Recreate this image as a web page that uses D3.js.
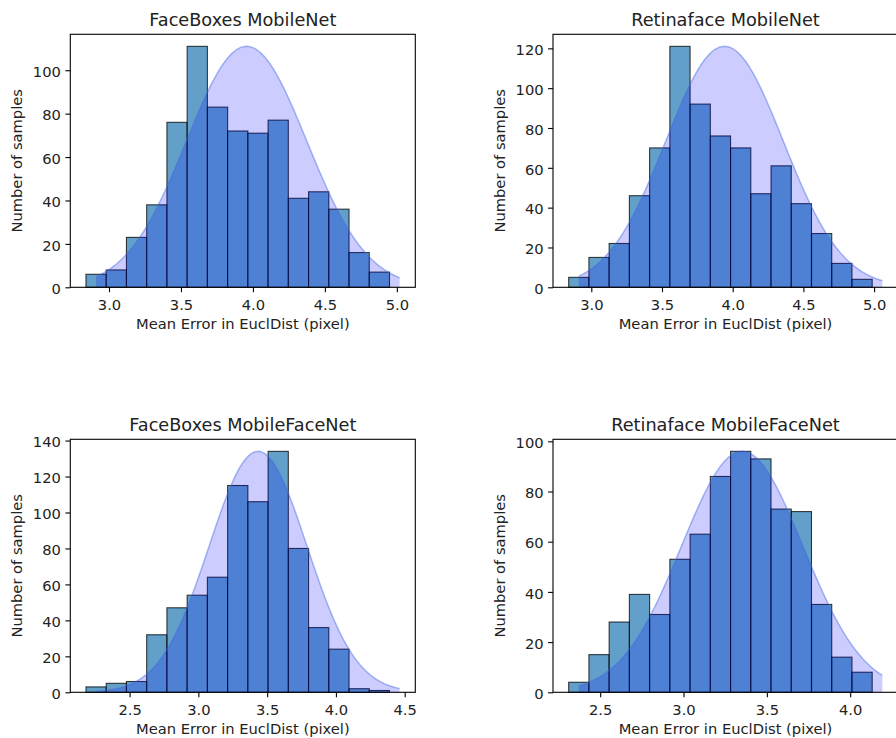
<!DOCTYPE html>
<html>
<head>
<meta charset="utf-8">
<script src="https://cdn.jsdelivr.net/npm/d3@7"></script>
<style>
  html, body { margin: 0; padding: 0; background: #fff; }
  svg { display: block; font-family: "DejaVu Sans", sans-serif; }
</style>
</head>
<body>
<svg id="chart" width="896" height="738"></svg>
<script>
// ---------- data ----------
const titles = ["FaceBoxes MobileNet", "Retinaface MobileNet", "FaceBoxes MobileFaceNet", "Retinaface MobileFaceNet"];
const binStarts = [2.84, 2.84, 2.183, 2.311];
const binWidths = [0.1406, 0.1431, 0.1471, 0.1214];
const countsFBMobileNet = [6, 8, 23, 38, 76, 111, 83, 72, 71, 77, 41, 44, 36, 16, 7];
const countsRFMobileNet = [5, 15, 22, 46, 70, 121, 92, 76, 70, 47, 61, 42, 27, 12, 4];
const countsFBMobileFaceNet = [3, 5, 6, 32, 47, 54, 64, 115, 106, 134, 80, 36, 24, 2, 1];
const countsRFMobileFaceNet = [4, 15, 28, 39, 31, 53, 63, 86, 96, 93, 73, 72, 35, 14, 8];
const counts = [countsFBMobileNet, countsRFMobileNet, countsFBMobileFaceNet, countsRFMobileFaceNet];
// fitted normal curve drawn over each histogram
const curveMu = [3.956, 3.942, 3.434, 3.352];
const curveSigma = [0.4185, 0.4157, 0.356, 0.3644];
const curvePeak = [111, 121, 134, 96];
const xTicks = [
  [3.0, 3.5, 4.0, 4.5, 5.0],
  [3.0, 3.5, 4.0, 4.5, 5.0],
  [2.5, 3.0, 3.5, 4.0, 4.5],
  [2.5, 3.0, 3.5, 4.0]
];
const yTicks = [
  [0, 20, 40, 60, 80, 100],
  [0, 20, 40, 60, 80, 100, 120],
  [0, 20, 40, 60, 80, 100, 120, 140],
  [0, 20, 40, 60, 80, 100]
];
const xLabel = "Mean Error in EuclDist (pixel)";
const yLabel = "Number of samples";

// ---------- layout ----------
const panelLeft = [70.3, 553, 70.3, 553];
const panelTop = [34.3, 34.3, 439.3, 439.3];
const panelW = 345, panelH = 253;
const tickFont = "14.7px", titleFont = "17.7px";

const svg = d3.select("#chart");

for (let p = 0; p < 4; p++) {
  const w = binWidths[p], c = counts[p];
  const bins = c.map((v, i) => ({ x0: binStarts[p] + i * w, x1: binStarts[p] + (i + 1) * w, n: v }));
  const curveStart = binStarts[p] + w / 2;
  const curveEnd = binStarts[p] + c.length * w + w / 2;
  const dMin = Math.min(binStarts[p], curveStart), dMax = curveEnd;
  const margin = (dMax - dMin) * 0.05;
  const x = d3.scaleLinear().domain([dMin - margin, dMax + margin]).range([0, panelW]);
  const yMax = d3.max(c) * 1.05;
  const y = d3.scaleLinear().domain([0, yMax]).range([panelH, 0]);

  const g = svg.append("g").attr("transform", `translate(${panelLeft[p]},${panelTop[p]})`);

  // histogram bars
  g.selectAll("rect.bar").data(bins).enter().append("rect")
    .attr("class", "bar")
    .attr("x", d => x(d.x0))
    .attr("width", d => x(d.x1) - x(d.x0))
    .attr("y", d => y(d.n))
    .attr("height", d => y(0) - y(d.n))
    .attr("fill", "#1f77b4").attr("fill-opacity", 0.7)
    .attr("stroke", "#000").attr("stroke-opacity", 0.75).attr("stroke-width", 1.1);

  // normal curve
  const xs = d3.range(0, 201).map(i => curveStart + (curveEnd - curveStart) * i / 200);
  const pts = xs.map(v => [v, curvePeak[p] * Math.exp(-0.5 * Math.pow((v - curveMu[p]) / curveSigma[p], 2))]);
  const area = d3.area().x(d => x(d[0])).y0(y(0)).y1(d => y(d[1]));
  const line = d3.line().x(d => x(d[0])).y(d => y(d[1]));
  g.append("path").datum(pts).attr("d", area)
    .attr("fill", "#0000ff").attr("fill-opacity", 0.2).attr("stroke", "none");
  g.append("path").datum(pts).attr("d", line)
    .attr("fill", "none").attr("stroke", "#4169e1").attr("stroke-opacity", 0.45).attr("stroke-width", 1.5);

  // axes
  const xAxis = d3.axisBottom(x).tickValues(xTicks[p]).tickFormat(d3.format(".1f")).tickSize(4.9).tickPadding(7);
  const yAxis = d3.axisLeft(y).tickValues(yTicks[p]).tickFormat(d3.format("d")).tickSize(4.9).tickPadding(4.5);
  const gx = g.append("g").attr("transform", `translate(0,${panelH})`).call(xAxis);
  const gy = g.append("g").call(yAxis);
  [gx, gy].forEach(a => {
    a.select(".domain").remove();
    a.selectAll(".tick line").attr("stroke", "#000").attr("stroke-width", 1.1);
    a.selectAll(".tick text").attr("fill", "#222").style("font-size", tickFont).style("font-family", "DejaVu Sans");
  });
  gy.selectAll(".tick text").attr("dy", "0.42em");

  // frame
  g.append("rect").attr("x", 0).attr("y", 0).attr("width", panelW).attr("height", panelH)
    .attr("fill", "none").attr("stroke", "#000").attr("stroke-width", 1.1);

  // texts
  g.append("text").attr("x", panelW / 2).attr("y", -8.8).attr("text-anchor", "middle")
    .attr("fill", "#222").style("font-size", titleFont).text(titles[p]);
  g.append("text").attr("x", panelW / 2).attr("y", panelH + 42).attr("text-anchor", "middle")
    .attr("fill", "#222").style("font-size", tickFont).text(xLabel);
  g.append("text").attr("transform", `translate(-48.5,${panelH / 2}) rotate(-90)`).attr("text-anchor", "middle")
    .attr("fill", "#222").style("font-size", tickFont).text(yLabel);
}
</script>
</body>
</html>
